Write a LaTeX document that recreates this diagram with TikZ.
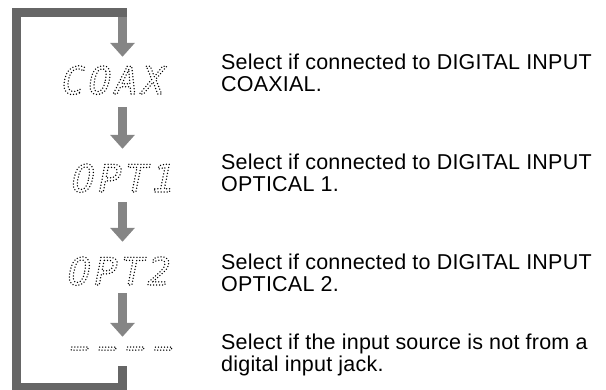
\documentclass[tikz,border=0pt]{standalone}
\usepackage{fontspec}
\setmainfont[LetterSpace=1]{Liberation Sans}
\newfontfamily\lcdfont[FakeSlant=0.2,LetterSpace=10]{DejaVu Sans Mono}
\newfontfamily\lcdwide[FakeSlant=0.2,FakeStretch=1.7,LetterSpace=-29]{DejaVu Sans Mono}
\usetikzlibrary{arrows.meta}

\definecolor{loopgray}{HTML}{666666}
\definecolor{arrowgray}{HTML}{858585}

% dotted outline letters for the display read-out
\newcommand{\lcd}[1]{\special{pdf:literal direct 1 Tr 1.5 w 1 J [0 3] 0 d}#1\special{pdf:literal direct 0 Tr [] 0 d}}

\begin{document}
\begin{tikzpicture}[
    x=1pt, y=-1pt,
    loopline/.style={loopgray, line width=9pt},
    steparrow/.style={arrowgray, line width=9pt, -{Triangle[length=14pt, width=24pt]}},
    display/.style={anchor=base west, inner sep=0pt, text height=28pt, text depth=0pt,
        font=\fontsize{38}{38}\lcdfont, text=black},
    note/.style={anchor=base west, inner sep=0pt, align=left, font=\fontsize{21.5}{22}\selectfont}
]
\useasboundingbox (0,0) rectangle (606,390);

% arrow column and entry point under the top bar
\coordinate (col) at (122.5,0);
\coordinate (entry) at (122.5,17.5);

% display settings
\node[display] (coax) at (59,94) {\lcd{COAX}};
\node[display] (opt1) at (69,192) {\lcd{OPT1}};
\node[display] (opt2) at (65,285) {\lcd{OPT2}};
\node[display, font=\fontsize{38}{38}\lcdwide] (none) at (58,359) {\lcd{----}};

% descriptions (base is the last line)
\node[note] (coaxtxt) at (221,92) {Select if connected to DIGITAL INPUT\\COAXIAL.};
\node[note] (opt1txt) at (221,192) {Select if connected to DIGITAL INPUT\\OPTICAL 1.};
\node[note] (opt2txt) at (221,292) {Select if connected to DIGITAL INPUT\\OPTICAL 2.};
\node[note] (nonetxt) at (221,372) {Select if the input source is not from a\\digital input jack.};

% steps
\draw[steparrow, shorten >=9pt] (entry) -- (coax.north -| col);
\draw[steparrow, shorten <=13pt, shorten >=15pt] (coax.south -| col) -- (opt1.north -| col);
\draw[steparrow, shorten <=10pt, shorten >=15pt] (opt1.south -| col) -- (opt2.north -| col);
\draw[steparrow, shorten <=8pt, shorten >=-6pt] (opt2.south -| col) -- (none.north -| col);

% back to the top
\draw[loopline] (none.south -| col) ++(0,7) |- (16,388) |- (127,13);

\end{tikzpicture}
\end{document}
